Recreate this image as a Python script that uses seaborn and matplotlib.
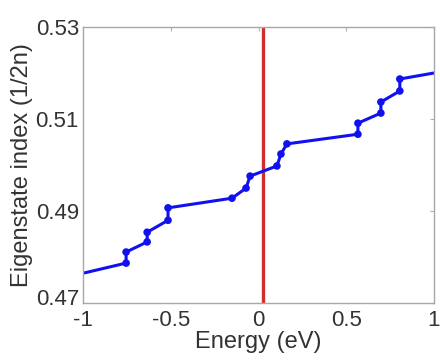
import matplotlib
matplotlib.use("Agg")
import matplotlib.pyplot as plt
import matplotlib.transforms as mtransforms
import numpy as np
import pandas as pd
import seaborn as sns

# Energy levels (eV) and normalized eigenstate index along the curve
energy = [-1.0, -0.755, -0.755, -0.635, -0.635, -0.516, -0.516,
          -0.151, -0.071, -0.048, 0.105, 0.128, 0.162,
          0.567, 0.567, 0.698, 0.698, 0.806, 0.806, 1.0]
index = [0.4765, 0.4787, 0.4811, 0.4833, 0.4854, 0.4880, 0.4907,
         0.4928, 0.4950, 0.4976, 0.4998, 0.5024, 0.5046,
         0.5067, 0.5091, 0.5113, 0.5137, 0.5161, 0.5187, 0.5200]
# Curve end points carry no marker
has_marker = [False] + [True] * 18 + [False]

fermi_level = 0.025

x_ticks = [-1, -0.5, 0, 0.5, 1]
x_tick_labels = ["-1", "-0.5", "0", "0.5", "1"]
y_ticks = [0.47, 0.49, 0.51, 0.53]
y_tick_labels = ["0.47", "0.49", "0.51", "0.53"]

df = pd.DataFrame({"energy": energy, "index": index, "marker": has_marker})

sns.set_style("white")
plt.rcParams["font.family"] = ["Liberation Sans", "DejaVu Sans"]

fig = plt.figure(figsize=(4.4, 3.6), dpi=100)
ax = fig.add_axes([0.189, 0.158, 0.797, 0.767])

ax.axvline(fermi_level, color="#d0302c", lw=2.4, zorder=1)
sns.lineplot(data=df, x="energy", y="index", ax=ax, color="#1010f0",
             lw=2.2, sort=False, estimator=None, zorder=2)
sns.scatterplot(data=df[df["marker"]], x="energy", y="index", ax=ax,
                color="#1010f0", s=30, edgecolor="none", zorder=3)

ax.set_xlim(-1, 1)
ax.set_ylim(0.47, 0.53)
ax.set_xticks(x_ticks)
ax.set_xticklabels(x_tick_labels)
ax.set_yticks(y_ticks)
ax.set_yticklabels(y_tick_labels)

ax.tick_params(direction="in", length=3, width=0.8, color="#b0b0b0",
               top=True, right=True, labelsize=16, labelcolor="#333333")
ax.tick_params(axis="y", pad=3)
ax.tick_params(axis="x", pad=5)
for s in ax.spines.values():
    s.set_color("#a8a8a8")
    s.set_linewidth(1.0)

# lift the lowest y label a little so it clears the "-1" below it
lift = mtransforms.ScaledTranslation(0, 6 / 100, fig.dpi_scale_trans)
bottom_label = ax.get_yticklabels()[0]
bottom_label.set_transform(bottom_label.get_transform() + lift)

ax.set_xlabel("Energy (eV)", fontsize=17, color="#333333", labelpad=0)
ax.set_ylabel("Eigenstate index (1/2n)", fontsize=17, color="#333333", labelpad=2)

fig.savefig("out.png", dpi=100)
